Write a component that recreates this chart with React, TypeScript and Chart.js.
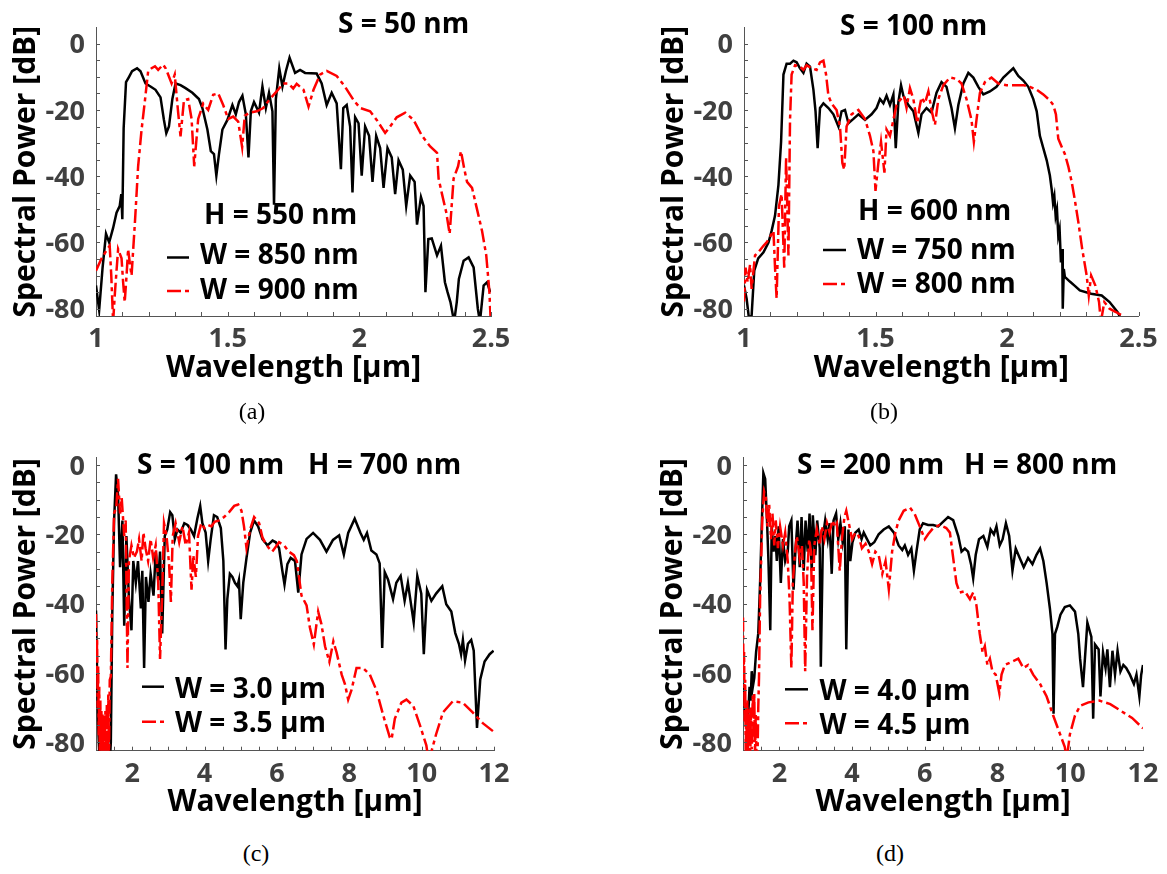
import React, { useEffect, useRef } from 'react';
import { Chart, registerables } from 'chart.js';

Chart.register(...registerables);

type Pt = [number, number];

const FONT = '"Open Sans", "DejaVu Sans", sans-serif';
const AXIS_COLOR = '#555555';
const TICK_LABEL_COLOR = '#404040';
const RED_DASH = [14, 4, 4, 4];
const LINE_W = 2.5;

// ---------------- tick values ----------------
const xMajorShort = [1, 1.5, 2, 2.5];
const xMinorShort = [1.0, 1.1, 1.2, 1.3, 1.4, 1.5, 1.6, 1.7, 1.8, 1.9, 2.0, 2.1, 2.2, 2.3, 2.4, 2.5];
const xMajorLong = [2, 4, 6, 8, 10, 12];
const xMinorLong = [1, 1.5, 2, 2.5, 3, 3.5, 4, 4.5, 5, 5.5, 6, 6.5, 7, 7.5, 8, 8.5, 9, 9.5, 10, 10.5, 11, 11.5, 12];
const yMajor = [-80, -60, -40, -20, 0];
const yMinor = [-80, -75, -70, -65, -60, -55, -50, -45, -40, -35, -30, -25, -20, -15, -10, -5, 0];

// ---------------- (a) S = 50 nm, H = 550 nm ----------------
const aW850: Pt[] = [
  [1.0, -73], [1.012, -80.4], [1.025, -67.6], [1.038, -57.4], [1.05, -60], [1.065, -55.6], [1.078, -51], [1.09, -49],
  [1.096, -45.4], [1.1, -53], [1.105, -25.5], [1.114, -11.6], [1.124, -10.2], [1.137, -8.3], [1.156, -7.4], [1.169, -8.3],
  [1.188, -12], [1.207, -12.9], [1.226, -13.9], [1.245, -16.2], [1.258, -23], [1.267, -27], [1.277, -25], [1.29, -16.7],
  [1.302, -12], [1.321, -12.5], [1.34, -13.4], [1.366, -14.8], [1.391, -16.7], [1.404, -19.4], [1.423, -25.9], [1.436, -32.4],
  [1.448, -33.3], [1.457, -39.8], [1.467, -33.3], [1.48, -25.9], [1.499, -23], [1.518, -18.5], [1.531, -21.3], [1.543, -17.6],
  [1.556, -15.7], [1.569, -21.3], [1.579, -34.3], [1.588, -20.4], [1.6, -17.6], [1.619, -20.8], [1.632, -12.9], [1.645, -19.4],
  [1.657, -14.8], [1.67, -20.4], [1.676, -48.6], [1.683, -16.7], [1.696, -7.4], [1.708, -12.9], [1.721, -8.3], [1.735, -4.2],
  [1.756, -8.8], [1.775, -7.9], [1.794, -8.8], [1.838, -9], [1.857, -12], [1.876, -18.5], [1.895, -14.8], [1.914, -18],
  [1.93, -37.9], [1.939, -19.4], [1.952, -18.5], [1.965, -25], [1.974, -44.9], [1.984, -22.2], [1.997, -24], [2.009, -39.8],
  [2.022, -25], [2.037, -27.8], [2.05, -41.7], [2.064, -27.8], [2.079, -31.5], [2.092, -43.5], [2.107, -31.5], [2.123, -34.3],
  [2.136, -45.4], [2.149, -35.2], [2.165, -38], [2.178, -49], [2.193, -39.8], [2.21, -41.7], [2.219, -54.6], [2.234, -46.3],
  [2.244, -49], [2.251, -75], [2.262, -59], [2.275, -58.8], [2.295, -63.9], [2.31, -61], [2.325, -72], [2.335, -75],
  [2.346, -78], [2.36, -84], [2.37, -78], [2.378, -71], [2.396, -65.5], [2.415, -64.5], [2.434, -67.5], [2.45, -80],
  [2.458, -84], [2.472, -73], [2.485, -72], [2.497, -75],
];
const aW900: Pt[] = [
  [1.0, -68.5], [1.02, -65], [1.039, -62.5], [1.052, -61], [1.058, -70], [1.065, -84], [1.072, -75], [1.084, -62],
  [1.097, -64.8], [1.103, -72], [1.109, -78], [1.116, -70], [1.122, -62], [1.128, -66], [1.135, -70], [1.148, -53.7],
  [1.16, -37], [1.173, -26], [1.186, -17], [1.198, -8.3], [1.211, -7.4], [1.224, -6.8], [1.236, -7.9], [1.255, -6.3],
  [1.265, -7.5], [1.274, -9.3], [1.287, -12], [1.299, -9.3], [1.312, -20.8], [1.321, -28], [1.334, -17], [1.35, -16.7],
  [1.363, -22.7], [1.373, -37], [1.388, -22.7], [1.407, -18.1], [1.426, -20], [1.445, -15.4], [1.464, -15], [1.483, -18.5],
  [1.502, -22.7], [1.521, -22], [1.54, -23.5], [1.555, -31.2], [1.565, -21.7], [1.584, -20.8], [1.61, -20.4], [1.635, -19.4],
  [1.66, -16.7], [1.686, -14.4], [1.711, -12], [1.73, -12], [1.749, -13.5], [1.762, -12.1], [1.788, -13.9], [1.807, -19],
  [1.826, -13.9], [1.851, -9.3], [1.876, -8.2], [1.914, -9.7], [1.946, -13], [1.978, -17], [2.003, -19.4], [2.041, -20.4],
  [2.066, -23], [2.098, -26.9], [2.117, -25], [2.142, -22.2], [2.174, -20.8], [2.206, -23], [2.238, -27.8], [2.269, -31],
  [2.295, -32.9], [2.301, -40.7], [2.314, -45.4], [2.33, -50.9], [2.343, -57.4], [2.358, -40.7], [2.375, -37], [2.386, -32.4],
  [2.399, -38], [2.409, -41.7], [2.428, -43.5], [2.447, -50], [2.466, -56.5], [2.482, -63.9], [2.494, -75], [2.499, -84],
];

// ---------------- (b) S = 100 nm, H = 600 nm ----------------
const bW750: Pt[] = [
  [1.0, -73], [1.01, -77], [1.019, -83], [1.029, -82], [1.039, -68.5], [1.054, -64.8], [1.074, -63], [1.093, -60],
  [1.105, -56.5], [1.118, -51.9], [1.131, -42.6], [1.141, -29.6], [1.15, -9.3], [1.162, -6], [1.175, -6], [1.188, -5.1],
  [1.2, -5.6], [1.213, -7.4], [1.226, -8.8], [1.238, -6], [1.251, -6.9], [1.264, -13.9], [1.272, -20.4], [1.28, -31.5],
  [1.289, -19.4], [1.302, -18], [1.321, -19.4], [1.34, -21.3], [1.359, -25], [1.371, -20.4], [1.384, -20], [1.397, -24],
  [1.416, -22.7], [1.435, -21.3], [1.46, -23], [1.485, -21.3], [1.504, -19.4], [1.517, -16.7], [1.53, -18], [1.542, -15.7],
  [1.555, -18.5], [1.568, -15.3], [1.577, -31.5], [1.587, -17.6], [1.597, -12.5], [1.606, -15.7], [1.625, -18.5], [1.644, -20.4],
  [1.663, -26.9], [1.675, -21.3], [1.694, -19.4], [1.713, -20.8], [1.732, -14.8], [1.751, -11.6], [1.77, -13], [1.789, -19.4],
  [1.802, -25.5], [1.815, -18.5], [1.834, -12], [1.853, -8.8], [1.872, -10.2], [1.891, -13], [1.91, -15.3], [1.935, -14.4],
  [1.96, -13], [1.986, -10.2], [2.005, -8.8], [2.024, -7.4], [2.043, -9.7], [2.062, -11.1], [2.081, -13], [2.1, -16.7],
  [2.113, -20.4], [2.125, -27.8], [2.138, -31.5], [2.151, -35.2], [2.163, -39.8], [2.17, -44], [2.175, -48], [2.18, -46],
  [2.185, -52], [2.19, -50], [2.195, -58], [2.2, -56], [2.205, -66], [2.21, -62], [2.212, -80], [2.216, -68],
  [2.22, -70.4], [2.239, -71.8], [2.258, -73.1], [2.277, -74.5], [2.32, -75.5], [2.36, -76], [2.39, -78], [2.42, -81],
  [2.44, -84],
];
const bW800: Pt[] = [
  [1.0, -77.8], [1.006, -67.6], [1.014, -72], [1.023, -66.7], [1.029, -74], [1.042, -63.9], [1.054, -63], [1.074, -61],
  [1.086, -60], [1.099, -58.3], [1.112, -56.5], [1.118, -67.6], [1.124, -76.9], [1.133, -49], [1.143, -45.4], [1.153, -67.6],
  [1.16, -34.3], [1.169, -63.9], [1.175, -23], [1.181, -9.3], [1.194, -6.5], [1.213, -6.9], [1.226, -7.9], [1.238, -6.5],
  [1.257, -7.4], [1.276, -7.9], [1.289, -5.6], [1.302, -5.1], [1.312, -9.3], [1.321, -15.7], [1.333, -18], [1.352, -20],
  [1.365, -25], [1.374, -36], [1.381, -38], [1.39, -25], [1.409, -21.3], [1.435, -20], [1.46, -22.7], [1.479, -27.8],
  [1.492, -32.4], [1.5, -44.4], [1.511, -36], [1.521, -29.6], [1.534, -38.9], [1.542, -25.9], [1.555, -27.8], [1.568, -23],
  [1.58, -18.5], [1.593, -17], [1.608, -15.7], [1.618, -19.4], [1.631, -13.4], [1.644, -16.7], [1.659, -24], [1.667, -19.4],
  [1.675, -16.2], [1.688, -18], [1.701, -14.4], [1.713, -20], [1.726, -24.5], [1.739, -16.7], [1.758, -12.5], [1.783, -10.2],
  [1.808, -10.6], [1.827, -12], [1.846, -16.7], [1.865, -23], [1.874, -29.6], [1.884, -23], [1.897, -14.8], [1.916, -11.6],
  [1.941, -10.2], [1.967, -12], [1.998, -12.5], [2.03, -12.5], [2.062, -12.5], [2.087, -13], [2.113, -13.9], [2.138, -15.3],
  [2.163, -17.1], [2.176, -18.5], [2.186, -21.3], [2.195, -28.7], [2.205, -30.6], [2.22, -33.3], [2.233, -37], [2.246, -41.7],
  [2.258, -47.2], [2.271, -53.7], [2.286, -62], [2.303, -70], [2.311, -76], [2.32, -70], [2.336, -73], [2.35, -78],
  [2.357, -84], [2.37, -78], [2.39, -80], [2.414, -81], [2.436, -82],
];

// ---------------- (c) S = 100 nm, H = 700 nm ----------------
const cW30: Pt[] = [
  [1.0, -42], [1.03, -60], [1.06, -75], [1.1, -86], [1.38, -86], [1.41, -80], [1.45, -43], [1.5, -16],
  [1.555, -2.7], [1.61, -8.6], [1.665, -29.5], [1.73, -16], [1.78, -46.4], [1.84, -20.5], [1.91, -38.6], [1.98, -47.7],
  [2.03, -27.7], [2.1, -34], [2.16, -27.7], [2.24, -41.4], [2.28, -30.5], [2.33, -58.6], [2.38, -32.3], [2.45, -39.5],
  [2.51, -31.4], [2.59, -37.7], [2.65, -25], [2.72, -33.2], [2.77, -25], [2.83, -48.6], [2.9, -20.5], [2.97, -18.6],
  [3.05, -13.6], [3.11, -14.5], [3.18, -21.4], [3.25, -18.6], [3.34, -19.5], [3.44, -16.8], [3.53, -17.3], [3.62, -18.6],
  [3.71, -20.5], [3.8, -15.5], [3.88, -11.8], [3.94, -16.8], [4.03, -19.5], [4.1, -27.7], [4.17, -21.4], [4.26, -14.5],
  [4.35, -15], [4.45, -18.2], [4.52, -27.7], [4.58, -53.2], [4.63, -38.6], [4.7, -31.4], [4.77, -32.3], [4.84, -34],
  [4.91, -35], [4.95, -33.2], [5.0, -44.5], [5.07, -34], [5.16, -26.8], [5.26, -19.5], [5.37, -16], [5.48, -17.7],
  [5.6, -21.4], [5.74, -23.2], [5.88, -21.8], [5.97, -22.3], [6.06, -24], [6.15, -30.5], [6.21, -34.5], [6.29, -28.6],
  [6.38, -26.8], [6.5, -27.7], [6.59, -36.8], [6.68, -25.8], [6.82, -21.3], [7.0, -19.6], [7.19, -21.6], [7.37, -25],
  [7.55, -21.6], [7.72, -20.3], [7.85, -25.8], [7.97, -19.6], [8.15, -15.5], [8.31, -19.6], [8.4, -21.6], [8.49, -19.6],
  [8.61, -24.7], [8.75, -25.8], [8.84, -28.4], [8.91, -52.8], [8.98, -30.9], [9.07, -33], [9.21, -38.7], [9.3, -34],
  [9.42, -32], [9.53, -39.2], [9.62, -34], [9.78, -45.4], [9.88, -32], [9.99, -37.1], [10.06, -54.6], [10.15, -36],
  [10.27, -39.2], [10.4, -37.1], [10.57, -35], [10.68, -40.2], [10.82, -42.3], [10.93, -48.5], [11.03, -51.6], [11.09, -54.6],
  [11.14, -50.5], [11.2, -56.4], [11.28, -51.6], [11.37, -50.5], [11.44, -53.6], [11.53, -75.9], [11.62, -61.9], [11.74, -56.7],
  [11.88, -54.6], [11.99, -53.6],
];
const cW35: Pt[] = [
  [1.0, -43], [1.015, -60], [1.03, -50], [1.045, -70], [1.06, -58], [1.075, -78], [1.09, -64], [1.105, -84],
  [1.12, -68], [1.135, -84], [1.15, -71], [1.165, -84], [1.18, -72], [1.2, -84], [1.22, -72.3], [1.24, -84],
  [1.26, -71], [1.28, -84], [1.3, -69], [1.32, -84], [1.34, -66], [1.36, -84], [1.38, -62], [1.41, -61],
  [1.45, -34], [1.5, -14], [1.56, -12.3], [1.61, -4], [1.665, -14], [1.71, -9.5],
  [1.78, -20.5], [1.82, -16], [1.87, -58.6], [1.91, -27.7], [1.98, -23.2], [2.05, -26.8], [2.13, -25], [2.19, -21.4],
  [2.26, -27.7], [2.31, -19.5], [2.37, -24], [2.44, -27.7], [2.51, -21.4], [2.58, -26.8], [2.65, -23.2], [2.72, -34],
  [2.77, -56], [2.83, -36.8], [2.88, -16.8], [2.95, -20.5], [3.02, -28.6], [3.07, -39.5], [3.12, -20.5], [3.2, -16.8],
  [3.3, -22.3], [3.39, -17.7], [3.48, -23.2], [3.57, -19.5], [3.64, -36], [3.69, -26], [3.76, -32.3], [3.82, -20.5],
  [3.91, -16.8], [4.0, -18.2], [4.1, -17.3], [4.19, -17.7], [4.28, -16.4], [4.4, -16], [4.54, -15], [4.68, -13.6],
  [4.82, -11.8], [4.93, -11.4], [5.02, -13.2], [5.09, -17.7], [5.16, -24], [5.26, -18.6], [5.37, -15], [5.51, -16.8],
  [5.6, -20.9], [5.69, -22.7], [5.78, -24], [5.87, -25], [5.97, -23.6], [6.06, -22.3], [6.2, -23.2], [6.33, -25],
  [6.47, -26], [6.55, -27.7], [6.68, -37.7], [6.82, -40.5], [6.91, -46.8], [7.02, -51.8], [7.14, -42.3], [7.23, -45.9],
  [7.33, -52.3], [7.45, -56.8], [7.56, -50.9], [7.65, -54.1], [7.79, -60.5], [7.88, -63.2], [7.97, -67.7], [8.06, -65],
  [8.2, -58.6], [8.38, -58.6], [8.57, -60.5], [8.75, -65], [8.94, -72.3], [9.12, -78.6], [9.17, -79.1], [9.26, -73.2],
  [9.44, -68.6], [9.58, -67.7], [9.77, -69.5], [9.95, -75], [10.13, -80.9], [10.2, -86], [10.27, -82.7], [10.4, -77.7],
  [10.59, -71.4], [10.86, -68.2], [11.14, -68.6], [11.41, -71.4], [11.69, -74.5], [11.97, -76.8],
];

// ---------------- (d) S = 200 nm, H = 800 nm ----------------
const dW40: Pt[] = [
  [1.0, -63], [1.03, -66.8], [1.06, -72], [1.1, -70.5], [1.14, -73], [1.18, -64], [1.21, -68], [1.24, -59.5],
  [1.27, -64], [1.31, -61.4], [1.36, -54], [1.42, -48.6],
  [1.47, -34], [1.52, -16], [1.56, -2.3], [1.61, -4], [1.66, -16], [1.7, -27.7], [1.75, -47.7], [1.79, -17.7],
  [1.84, -25], [1.89, -20.5], [1.93, -27.7], [1.98, -17.7], [2.04, -34], [2.1, -21.4], [2.16, -27.7], [2.23, -25],
  [2.27, -17.7], [2.33, -16], [2.39, -36], [2.44, -25], [2.5, -16], [2.56, -29.5], [2.61, -15], [2.67, -30.5],
  [2.72, -16], [2.78, -25], [2.83, -14], [2.89, -30.5], [2.92, -14.5], [2.99, -26], [3.04, -16], [3.11, -24],
  [3.14, -58.2], [3.2, -20.5], [3.26, -16], [3.33, -21.4], [3.38, -16.8], [3.44, -31.4], [3.49, -16], [3.56, -14],
  [3.62, -21.4], [3.68, -16.8], [3.74, -22.3], [3.8, -17.7], [3.84, -53.2], [3.9, -18.6], [3.95, -27.7], [4.01, -22.3],
  [4.09, -19.5], [4.18, -18.6], [4.26, -21.4], [4.32, -19.5], [4.41, -21.4], [4.5, -23.2], [4.61, -22.3], [4.73, -20],
  [4.87, -18.6], [5.01, -17.7], [5.15, -19.5], [5.28, -23.2], [5.38, -24.5], [5.45, -23.2], [5.54, -25.9], [5.63, -24.1],
  [5.7, -30.5], [5.77, -25], [5.86, -18.6], [5.95, -16.8], [6.09, -17.3], [6.23, -17.3], [6.37, -17.7], [6.5, -16.4],
  [6.64, -15], [6.78, -15.9], [6.92, -20.5], [7.01, -25], [7.1, -24.1], [7.19, -25], [7.27, -28.6], [7.33, -32.7],
  [7.4, -25.9], [7.49, -21.4], [7.61, -20.5], [7.72, -23.6], [7.81, -18.6], [7.9, -20], [7.97, -17.7], [8.06, -23.2],
  [8.14, -21.4], [8.23, -16.8], [8.32, -20.5], [8.41, -30.5], [8.5, -24.1], [8.61, -26.8], [8.72, -29.5], [8.84, -26.8],
  [8.96, -28.6], [9.07, -25.9], [9.17, -24.1], [9.26, -27.7], [9.35, -34.1], [9.44, -41.4], [9.51, -48.7], [9.54, -71.8],
  [9.58, -48.7], [9.64, -46.8], [9.73, -43.2], [9.85, -41], [9.99, -40.5], [10.13, -42.3], [10.22, -48.7], [10.27, -55.9],
  [10.35, -64.1], [10.47, -45.5], [10.58, -49.6], [10.63, -73.2], [10.68, -51.8], [10.78, -53.2], [10.83, -66.8], [10.9, -54.1],
  [10.97, -58.6], [11.02, -53.2], [11.09, -64.1], [11.16, -53.6], [11.23, -60.5], [11.3, -53.6], [11.38, -59.6], [11.46, -57.7],
  [11.54, -58.6], [11.64, -60.5], [11.75, -63.2], [11.82, -60.5], [11.9, -66.8], [11.95, -60.5], [12.0, -57.7],
];
const dW45: Pt[] = [
  [1.0, -44], [1.015, -62], [1.03, -54], [1.045, -74], [1.06, -62], [1.075, -84], [1.09, -70], [1.105, -80],
  [1.12, -68], [1.135, -84], [1.15, -70.5], [1.165, -80], [1.18, -72], [1.2, -84], [1.22, -70], [1.24, -82],
  [1.27, -66], [1.29, -80], [1.31, -65.9], [1.33, -84], [1.35, -72], [1.37, -84], [1.4, -84], [1.42, -70],
  [1.44, -61.4], [1.47, -38.6], [1.53, -16], [1.58, -7.7], [1.63, -9.5], [1.67, -17.7],
  [1.72, -11.4], [1.77, -21.4], [1.81, -14], [1.86, -23.2], [1.9, -16], [1.96, -24], [2.02, -17.7], [2.1, -23.2],
  [2.16, -19.5], [2.23, -27.7], [2.28, -38.6], [2.33, -58.6], [2.37, -34], [2.43, -25], [2.48, -20.5], [2.56, -26.8],
  [2.62, -23.2], [2.67, -34], [2.71, -59.5], [2.76, -32.3], [2.82, -21.4], [2.87, -25], [2.91, -47.7], [2.96, -23.2],
  [3.03, -18.6], [3.11, -23.2], [3.17, -17.7], [3.24, -21.4], [3.31, -16.8], [3.38, -19.5], [3.46, -16], [3.53, -17.7],
  [3.58, -16.8], [3.66, -30.5], [3.72, -21.4], [3.79, -15], [3.84, -13.2], [3.91, -16.8], [4.0, -21.4], [4.09, -19.5],
  [4.18, -20.5], [4.27, -24], [4.37, -22.7], [4.46, -25], [4.55, -28.6], [4.64, -25], [4.73, -25.9], [4.83, -31.4],
  [4.92, -27.7], [5.01, -35.9], [5.1, -25], [5.19, -19.5], [5.28, -16], [5.42, -13.2], [5.59, -12.3], [5.72, -14.1],
  [5.86, -17.7], [6.0, -21.4], [6.09, -20], [6.23, -18.2], [6.41, -17.3], [6.59, -18.2], [6.69, -19.5], [6.78, -26.8],
  [6.87, -34.1], [6.96, -36.8], [7.1, -36.4], [7.24, -38.7], [7.33, -36.8], [7.42, -40.5], [7.51, -48.7], [7.59, -54.1],
  [7.65, -52.3], [7.72, -57.7], [7.79, -55.9], [7.86, -59.6], [7.95, -60.5], [8.05, -65.9], [8.11, -60.5], [8.2, -57.7],
  [8.39, -56.8], [8.57, -55.9], [8.71, -58.6], [8.84, -57.7], [8.98, -60.5], [9.17, -63.2], [9.35, -66.8], [9.53, -72.3],
  [9.72, -77.7], [9.85, -81.4], [9.9, -85], [9.99, -77.7], [10.13, -72.3], [10.27, -69.5], [10.5, -68.5], [10.8, -68],
  [11.1, -69], [11.4, -71], [11.7, -73], [12.0, -76],
];

// ---------------- panel layout ----------------
interface Note { text: string; x: number; y: number }
interface PanelSpec {
  key: string;
  box: { left: number; top: number; width: number; height: number };
  area: { left: number; top: number; right: number; bottom: number };
  xRange: [number, number];
  yRange: [number, number];
  xMajor: number[];
  xMinor: number[];
  black: Pt[];
  red: Pt[];
  blackLabel: string;
  redLabel: string;
  notes: Note[];
  legend: { x0: number; x1: number; tx: number; yB: number; yR: number; tyB: number; tyR: number };
  xTitlePad: number;
  xTickPad: number;
}

const panels: PanelSpec[] = [
  {
    key: 'a',
    box: { left: 0, top: 0, width: 583, height: 400 },
    area: { left: 96, top: 2, right: 491, bottom: 316 },
    xRange: [1, 2.5], yRange: [-82.2, 5],
    xMajor: xMajorShort, xMinor: xMinorShort,
    black: aW850, red: aW900, blackLabel: 'W = 850 nm', redLabel: 'W = 900 nm',
    notes: [{ text: 'S = 50 nm', x: 338, y: 25.5 }, { text: 'H = 550 nm', x: 204, y: 216 }],
    legend: { x0: 167, x1: 189, tx: 200, yB: 257.5, yR: 291, tyB: 256.5, tyR: 291.5 },
    xTitlePad: 14, xTickPad: 7,
  },
  {
    key: 'b',
    box: { left: 648, top: 0, width: 519, height: 400 },
    area: { left: 96, top: 2, right: 490.5, bottom: 316 },
    xRange: [1, 2.5], yRange: [-82.2, 5],
    xMajor: xMajorShort, xMinor: xMinorShort,
    black: bW750, red: bW800, blackLabel: 'W = 750 nm', redLabel: 'W = 800 nm',
    notes: [{ text: 'S = 100 nm', x: 192, y: 27.5 }, { text: 'H = 600 nm', x: 210, y: 212.5 }],
    legend: { x0: 175, x1: 198, tx: 209, yB: 250, yR: 284, tyB: 251.5, tyR: 285.5 },
    xTitlePad: 14, xTickPad: 7,
  },
  {
    key: 'c',
    box: { left: 0, top: 430, width: 583, height: 400 },
    area: { left: 96, top: 10, right: 494, bottom: 320.7 },
    xRange: [1, 12], yRange: [-82.45, 2.26],
    xMajor: xMajorLong, xMinor: xMinorLong,
    black: cW30, red: cW35, blackLabel: 'W = 3.0 μm', redLabel: 'W = 3.5 μm',
    notes: [{ text: 'S = 100 nm', x: 137, y: 35.7 }, { text: 'H = 700 nm', x: 308, y: 35.7 }],
    legend: { x0: 142, x1: 164, tx: 175, yB: 256.7, yR: 291.7, tyB: 260, tyR: 294 },
    xTitlePad: 10, xTickPad: 7,
  },
  {
    key: 'd',
    box: { left: 647, top: 430, width: 520, height: 400 },
    area: { left: 96, top: 10, right: 496, bottom: 320.7 },
    xRange: [1, 12], yRange: [-82.45, 2.26],
    xMajor: xMajorLong, xMinor: xMinorLong,
    black: dW40, red: dW45, blackLabel: 'W = 4.0 μm', redLabel: 'W = 4.5 μm',
    notes: [{ text: 'S = 200 nm', x: 150, y: 36.3 }, { text: 'H = 800 nm', x: 317, y: 36.3 }],
    legend: { x0: 138, x1: 161, tx: 172.5, yB: 259.3, yR: 293.3, tyB: 262.3, tyR: 295.7 },
    xTitlePad: 10, xTickPad: 7,
  },
];

const captions = [
  { text: '(a)', x: 252, y: 411 },
  { text: '(b)', x: 884, y: 411 },
  { text: '(c)', x: 256, y: 853 },
  { text: '(d)', x: 890, y: 853 },
];

function Panel({ spec }: { spec: PanelSpec }) {
  const ref = useRef<HTMLCanvasElement | null>(null);

  useEffect(() => {
    const canvas = ref.current;
    if (!canvas) return;
    const { box, area } = spec;

    const decor = {
      id: 'decor',
      afterDraw(chart: any) {
        const ctx: CanvasRenderingContext2D = chart.ctx;
        const ca = chart.chartArea;
        const xs = chart.scales.x;
        const ys = chart.scales.y;
        ctx.save();
        // inward tick marks
        ctx.strokeStyle = AXIS_COLOR;
        ctx.lineWidth = 1;
        ctx.beginPath();
        for (const v of spec.xMinor) {
          const px = Math.round(xs.getPixelForValue(v)) + 0.5;
          ctx.moveTo(px, ca.bottom);
          ctx.lineTo(px, ca.bottom - 4);
        }
        for (const v of yMinor) {
          const py = Math.round(ys.getPixelForValue(v)) + 0.5;
          ctx.moveTo(ca.left, py);
          ctx.lineTo(ca.left + 4, py);
        }
        ctx.stroke();

        // annotation texts
        ctx.fillStyle = '#000';
        ctx.font = `bold 28px ${FONT}`;
        ctx.textAlign = 'left';
        ctx.textBaseline = 'middle';
        for (const n of spec.notes) ctx.fillText(n.text, n.x, n.y);

        // legend
        const lg = spec.legend;
        ctx.lineWidth = LINE_W;
        ctx.strokeStyle = '#000';
        ctx.setLineDash([]);
        ctx.beginPath();
        ctx.moveTo(lg.x0, lg.yB);
        ctx.lineTo(lg.x1, lg.yB);
        ctx.stroke();
        ctx.strokeStyle = '#ff0000';
        ctx.setLineDash(RED_DASH);
        ctx.beginPath();
        ctx.moveTo(lg.x0, lg.yR);
        ctx.lineTo(lg.x1, lg.yR);
        ctx.stroke();
        ctx.setLineDash([]);
        ctx.fillText(spec.blackLabel, lg.tx, lg.tyB);
        ctx.fillText(spec.redLabel, lg.tx, lg.tyR);
        ctx.restore();
      },
    };

    const chart = new Chart(canvas, {
      type: 'line',
      data: {
        datasets: [
          {
            label: spec.redLabel,
            data: spec.red.map(([x, y]) => ({ x, y })),
            borderColor: '#ff0000',
            borderWidth: LINE_W,
            borderDash: RED_DASH,
            pointRadius: 0,
            tension: 0,
            fill: false,
          },
          {
            label: spec.blackLabel,
            data: spec.black.map(([x, y]) => ({ x, y })),
            borderColor: '#000000',
            borderWidth: LINE_W,
            pointRadius: 0,
            tension: 0,
            fill: false,
          },
        ],
      },
      options: {
        responsive: false,
        animation: false,
        devicePixelRatio: 1,
        events: [],
        layout: {
          autoPadding: false,
          padding: { left: 0, top: area.top, right: box.width - area.right, bottom: 0 },
        },
        plugins: { legend: { display: false }, tooltip: { enabled: false } },
        scales: {
          x: {
            type: 'linear',
            min: spec.xRange[0],
            max: spec.xRange[1],
            grid: { display: false, drawTicks: false },
            border: { display: true, color: AXIS_COLOR, width: 1 },
            ticks: {
              font: { family: FONT, size: 27, weight: 'bold' },
              color: TICK_LABEL_COLOR,
              padding: spec.xTickPad,
              maxRotation: 0,
              autoSkip: false,
              callback: (v: any) => String(v),
            },
            title: {
              display: true,
              text: 'Wavelength [μm]',
              color: '#000',
              font: { family: FONT, size: 30, weight: 'bold' },
              padding: { top: 0, bottom: spec.xTitlePad },
            },
            afterBuildTicks: (s: any) => {
              s.ticks = spec.xMajor.map((v) => ({ value: v }));
            },
            afterFit: (s: any) => {
              s.height = box.height - area.bottom;
            },
          },
          y: {
            type: 'linear',
            min: spec.yRange[0],
            max: spec.yRange[1],
            grid: { display: false, drawTicks: false },
            border: { display: true, color: AXIS_COLOR, width: 1 },
            ticks: {
              font: { family: FONT, size: 27, weight: 'bold' },
              color: TICK_LABEL_COLOR,
              padding: 11,
              labelOffset: 2,
              autoSkip: false,
              callback: (v: any) => String(v),
            },
            title: {
              display: true,
              text: 'Spectral Power [dB]',
              color: '#000',
              font: { family: FONT, size: 30, weight: 'bold' },
              padding: { top: 8, bottom: 0 },
            },
            afterBuildTicks: (s: any) => {
              s.ticks = yMajor.map((v) => ({ value: v }));
            },
            afterFit: (s: any) => {
              s.width = area.left;
            },
          },
        },
      } as any,
      plugins: [decor],
    });

    return () => chart.destroy();
  }, [spec]);

  return (
    <canvas
      ref={ref}
      width={spec.box.width}
      height={spec.box.height}
      style={{
        position: 'absolute',
        left: spec.box.left,
        top: spec.box.top,
        width: spec.box.width,
        height: spec.box.height,
      }}
    />
  );
}

export default function App() {
  return (
    <div
      style={{
        position: 'absolute',
        left: 0,
        top: 0,
        width: 1167,
        height: 874,
        background: '#ffffff',
        overflow: 'hidden',
      }}
    >
      {panels.map((p) => (
        <Panel key={p.key} spec={p} />
      ))}
      {captions.map((c) => (
        <div
          key={c.text}
          style={{
            position: 'absolute',
            left: c.x,
            top: c.y,
            transform: 'translate(-50%, -50%)',
            fontFamily: '"Liberation Serif", "DejaVu Serif", serif',
            fontSize: 24,
            color: '#000',
            lineHeight: 1,
            whiteSpace: 'nowrap',
          }}
        >
          {c.text}
        </div>
      ))}
    </div>
  );
}
